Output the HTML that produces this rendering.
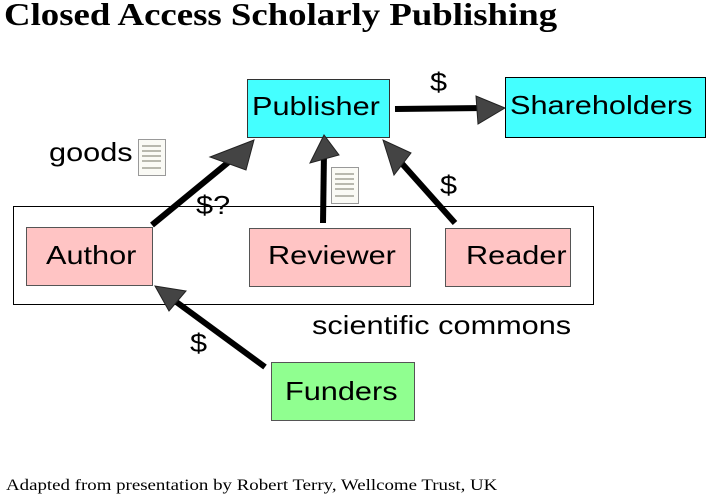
<!DOCTYPE html>
<html><head><style>
body{margin:0;width:706px;height:503px;background:#fff;position:relative;overflow:hidden;font-family:"Liberation Sans",sans-serif}
.t{position:absolute;white-space:nowrap;transform:scaleX(1.18);transform-origin:0 0}
</style></head><body>
<div class="t" style="left:4px;top:-4px;font-family:'Liberation Serif',serif;font-weight:bold;font-size:32px;transform:scaleX(1.15)">Closed Access Scholarly Publishing</div>
<svg width="706" height="503" style="position:absolute;left:0;top:0">
<rect x="13.5" y="206.5" width="580" height="98" fill="#fff" stroke="#000"/>
<rect x="247.5" y="79.5" width="142" height="58" fill="#44ffff" stroke="#333"/>
<rect x="505.5" y="77.5" width="200" height="60" fill="#44ffff" stroke="#000"/>
<rect x="26.5" y="227.5" width="126" height="58" fill="#ffc4c4" stroke="#555"/>
<rect x="249.5" y="228.5" width="161" height="58" fill="#ffc4c4" stroke="#555"/>
<rect x="445.5" y="228.5" width="125" height="58" fill="#ffc4c4" stroke="#555"/>
<rect x="271.5" y="362.5" width="143" height="58" fill="#90ff90" stroke="#555"/>
<g stroke="#000" stroke-width="6" fill="none">
<line x1="152" y1="225" x2="236" y2="156"/>
<line x1="323" y1="223" x2="324" y2="152"/>
<line x1="455" y1="223" x2="397" y2="158"/>
<line x1="395" y1="109" x2="485" y2="108"/>
<line x1="265" y1="367" x2="175" y2="301"/>
</g>
<g fill="#444" stroke="#222" stroke-width="1">
<polygon points="254,140 210,157 246,170"/>
<polygon points="324,135 310,163 339,155"/>
<polygon points="383,140 394,175 411,153"/>
<polygon points="505,108 476,96 478,124"/>
<polygon points="155,286 169,311 186,291"/>
</g>
<g fill="#fafaf5" stroke="#999">
<rect x="138.5" y="139.5" width="27" height="36"/>
<rect x="331.5" y="167.5" width="27" height="36"/>
</g>
<g stroke="#776" stroke-width="1">
<line x1="142" y1="146" x2="161" y2="146"/><line x1="142" y1="151" x2="161" y2="151"/><line x1="142" y1="156" x2="161" y2="156"/><line x1="142" y1="161" x2="161" y2="161"/><line x1="142" y1="168" x2="161" y2="168"/>
<line x1="335" y1="174" x2="354" y2="174"/><line x1="335" y1="179" x2="354" y2="179"/><line x1="335" y1="184" x2="354" y2="184"/><line x1="335" y1="189" x2="354" y2="189"/><line x1="335" y1="196" x2="354" y2="196"/>
</g>
</svg>
<div class="t" style="left:252px;top:91px;font-size:26px">Publisher</div>
<div class="t" style="left:510px;top:90px;font-size:26px">Shareholders</div>
<div class="t" style="left:46px;top:240px;font-size:26px">Author</div>
<div class="t" style="left:268px;top:240px;font-size:26px">Reviewer</div>
<div class="t" style="left:466px;top:240px;font-size:26px">Reader</div>
<div class="t" style="left:285px;top:376px;font-size:26px">Funders</div>
<div class="t" style="left:312px;top:310px;font-size:26px">scientific commons</div>
<div class="t" style="left:49px;top:137px;font-size:26px">goods</div>
<div class="t" style="left:196px;top:190px;font-size:26px">$?</div>
<div class="t" style="left:430px;top:67px;font-size:26px">$</div>
<div class="t" style="left:440px;top:170px;font-size:26px">$</div>
<div class="t" style="left:190px;top:328px;font-size:26px">$</div>
<div class="t" style="left:6px;top:477px;font-family:'Liberation Serif',serif;font-size:16px">Adapted from presentation by Robert Terry, Wellcome Trust, UK</div>
</body></html>
